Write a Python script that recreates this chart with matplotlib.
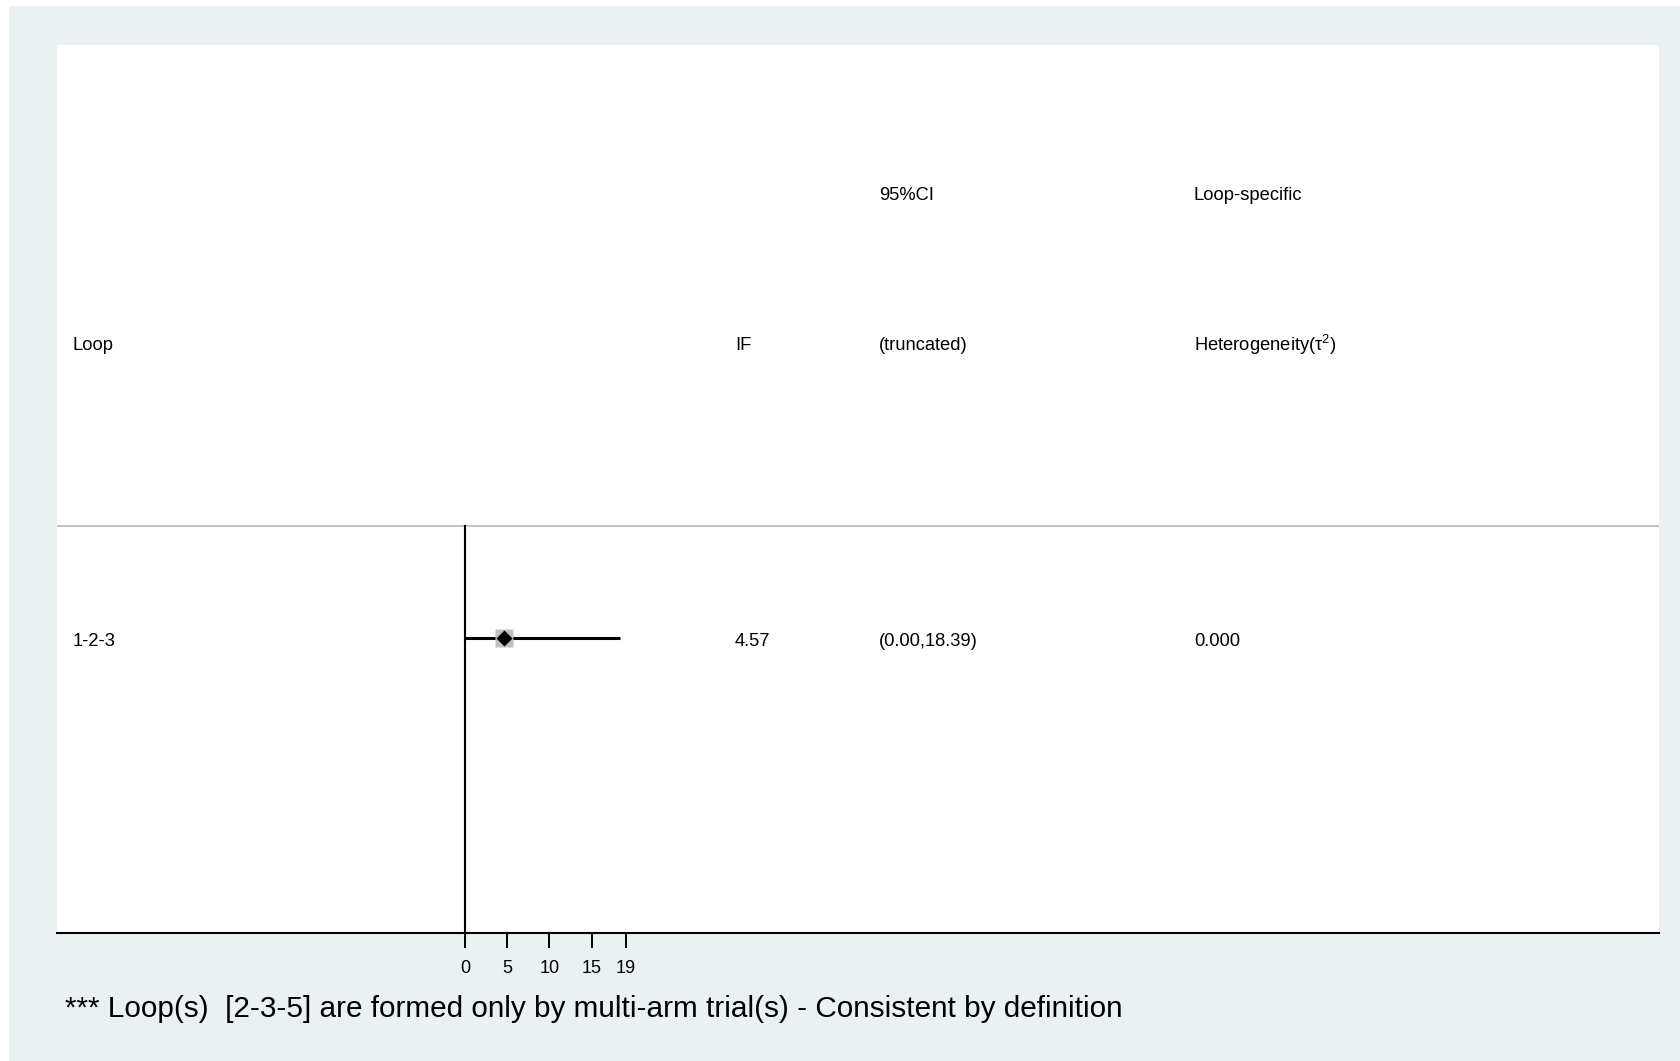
import matplotlib
matplotlib.use("Agg")
import matplotlib.pyplot as plt
from matplotlib.patches import Rectangle
from matplotlib.transforms import blended_transform_factory

# ---- data ----
loops = ["1-2-3"]
if_values = [4.57]
ci_low = [0.00]
ci_high = [18.39]
ci_labels = ["(0.00,18.39)"]
tau2_labels = ["0.000"]
xticks = [0, 5, 10, 15, 19]
footnote = "*** Loop(s)  [2-3-5] are formed only by multi-arm trial(s) - Consistent by definition"

plt.rcParams['font.family'] = ['Liberation Sans', 'DejaVu Sans']
plt.rcParams['mathtext.fontset'] = 'custom'
plt.rcParams['mathtext.rm'] = 'Liberation Sans'

W, H = 1681, 1061
fig = plt.figure(figsize=(W / 100, H / 100), dpi=100, facecolor='white')
bg = '#EAF1F3'
fig.patches.append(Rectangle((9 / W, 0), 1 - 9 / W, 1 - 6 / H, transform=fig.transFigure,
                             facecolor=bg, edgecolor='none', zorder=-10))

left, right, top, bottom = 57, 1659, 45, 933
ax = fig.add_axes([left / W, 1 - bottom / H, (right - left) / W, (bottom - top) / H])
ax.set_facecolor('white')

px_per_unit = 8.45
x0_px = 465
ax.set_xlim((left - x0_px) / px_per_unit, (right - x0_px) / px_per_unit)
ax.set_ylim(0, bottom - top)

def ypx(p):
    return bottom - p

for s in ['top', 'left', 'right']:
    ax.spines[s].set_visible(False)
ax.spines['bottom'].set_linewidth(1.5)
ax.set_yticks([])
ax.set_xticks(xticks)
ax.set_xticklabels([str(t) for t in xticks], fontsize=13)
ax.tick_params(axis='x', direction='out', length=11, width=1.4, pad=8.5, colors='black')

# header separator
ax.axhline(ypx(526), color='#BDBDBD', lw=1.3, zorder=1)
# null line
ax.plot([0, 0], [0, ypx(526)], color='black', lw=1.5, zorder=2)

row_y = [ypx(638)]
for i in range(len(loops)):
    ax.plot([ci_low[i], ci_high[i]], [row_y[i], row_y[i]], color='black', lw=2.2, zorder=3,
            solid_capstyle='butt')
    ax.plot([if_values[i]], [row_y[i]], marker='s', ms=12.5, color='#C0C0C0', mec='none', zorder=4)
    ax.plot([if_values[i]], [row_y[i]], marker='D', ms=8.3, color='black', mec='none', zorder=5)

tr = blended_transform_factory(fig.transFigure, ax.transData)
fs = 13.2
dy = 3
def col(xp):
    return xp / W

ax.text(col(879), ypx(193 + dy), "95%CI", transform=tr, fontsize=fs, va='center')
ax.text(col(1194), ypx(193 + dy), "Loop-specific", transform=tr, fontsize=fs, va='center')
ax.text(col(73), ypx(342 + dy), "Loop", transform=tr, fontsize=fs, va='center')
ax.text(col(735), ypx(342 + dy), "IF", transform=tr, fontsize=fs, va='center')
ax.text(col(879), ypx(342 + dy), "(truncated)", transform=tr, fontsize=fs, va='center')
ax.text(col(1194), ypx(342 + dy), r"Heterogeneity(τ$^{\mathregular{2}}$)", transform=tr, fontsize=fs, va='center')

for i in range(len(loops)):
    ty = row_y[i] - dy
    ax.text(col(73), ty, loops[i], transform=tr, fontsize=fs, va='center')
    ax.text(col(735), ty, f"{if_values[i]:.2f}", transform=tr, fontsize=fs, va='center')
    ax.text(col(879), ty, ci_labels[i], transform=tr, fontsize=fs, va='center')
    ax.text(col(1194), ty, tau2_labels[i], transform=tr, fontsize=fs, va='center')

fig.text(65 / W, 1 - 1017 / H, footnote, fontsize=21.4, va='baseline', ha='left')

fig.savefig("out.png", dpi=100, facecolor=fig.get_facecolor())
